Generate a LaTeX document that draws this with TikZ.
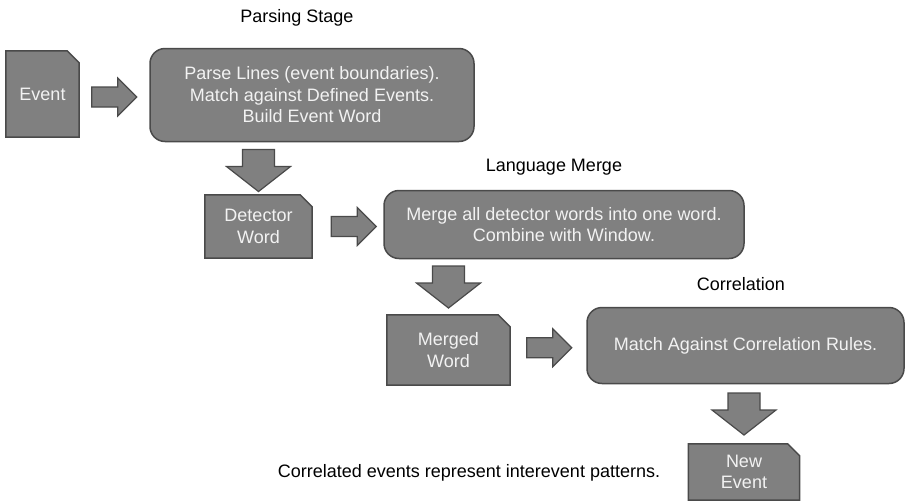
\documentclass[tikz,border=0pt]{standalone}
\usepackage{fontspec}
\setmainfont{Liberation Sans}
\usetikzlibrary{backgrounds,calc}
\definecolor{boxfill}{HTML}{808080}
\definecolor{boxline}{HTML}{4A4A4A}
\definecolor{boxtext}{HTML}{F2F2F2}
\tikzset{
  boxfont/.style={font=\fontsize{18}{21.5}\selectfont, text=boxtext, align=center},
  docbox/.style={boxfont, inner sep=0pt},
  stagebox/.style={boxfont, draw=boxline, fill=boxfill, line width=1.5pt,
    rounded corners=15pt, inner sep=0pt},
  docline/.style={draw=boxline, fill=boxfill, line width=1.5pt},
  blockarrow/.style={draw=boxline, fill=boxfill, line width=1.2pt, line join=miter},
  caption/.style={font=\fontsize{18}{21}\selectfont, text=black}
}
% folded-corner outline drawn behind a document node
\newcommand\docoutline[1]{%
  \begin{scope}[on background layer]
    \path[docline] (#1.south west) -- (#1.north west)
      -- ([xshift=-12pt]#1.north east) -- ([yshift=-12pt]#1.north east)
      -- (#1.south east) -- cycle;
  \end{scope}}
% horizontal block arrow centred on a point
\newcommand\rightblock[1]{%
  \path[blockarrow, shift={(#1)}] (-22.5,-10) -- (3.5,-10) -- (3.5,-19) -- (22.5,0)
    -- (3.5,19) -- (3.5,10) -- (-22.5,10) -- cycle;}
% vertical block arrow centred on a point
\newcommand\downblock[1]{%
  \path[blockarrow, shift={(#1)}] (-16,-21) -- (16,-21) -- (16,-4) -- (32,-4) -- (0,21)
    -- (-32,-4) -- (-16,-4) -- (-16,-21) -- cycle;}
\begin{document}
\begin{tikzpicture}[x=1pt,y=-1pt]
  \useasboundingbox (0,0) rectangle (906,501);

  % stage captions
  \node[caption] (capparse) at (297,17.5) {Parsing Stage};
  \node[caption] (capmerge) at (554,167) {Language Merge};
  \node[caption] (capcorr) at (741,284) {Correlation};
  \node[caption] (note) at (469,473) {Correlated events represent interevent patterns.};

  % document nodes
  \node[docbox, minimum width=73pt, minimum height=86pt] (ev) at (42.5,94) {Event};
  \node[docbox, minimum width=107pt, minimum height=63pt] (det) at (258.5,226.5) {Detector\\Word};
  \node[docbox, minimum width=123pt, minimum height=70pt] (mrg) at (448.5,350) {Merged\\Word};
  \node[docbox, minimum width=111pt, minimum height=56pt] (newev) at (744,472) {New\\Event};
  \docoutline{ev}
  \docoutline{det}
  \docoutline{mrg}
  \docoutline{newev}

  % processing stages
  \node[stagebox, minimum width=324pt, minimum height=93pt] (parse) at (312,95)
    {Parse Lines (event boundaries).\\Match against Defined Events.\\Build Event Word};
  \node[stagebox, minimum width=360pt, minimum height=68pt] (merge) at (564,224.5)
    {Merge all detector words into one word.\\Combine with Window.};
  \node[stagebox, minimum width=317pt, minimum height=76pt] (match) at (745.5,345.5)
    {Match Against Correlation Rules.};

  % block arrows between the nodes
  \path (ev.east) -- (parse.west) coordinate[midway] (a1);
  \rightblock{$(a1)+(0,2.5)$}
  \path (det.east) -- (merge.west) coordinate[midway] (a2);
  \rightblock{$(a2)+(6,1)$}
  \path (mrg.east) -- (match.west) coordinate[midway] (a3);
  \rightblock{$(a3)+(1,0)$}
  \path (det.north |- parse.south) -- (det.north) coordinate[midway] (d1);
  \downblock{$(d1)+(0,2)$}
  \path (mrg.north |- merge.south) -- (mrg.north) coordinate[midway] (d2);
  \downblock{d2}
  \path (newev.north) -- (newev.north |- match.south) coordinate[midway] (d3);
  \downblock{d3}
\end{tikzpicture}
\end{document}
